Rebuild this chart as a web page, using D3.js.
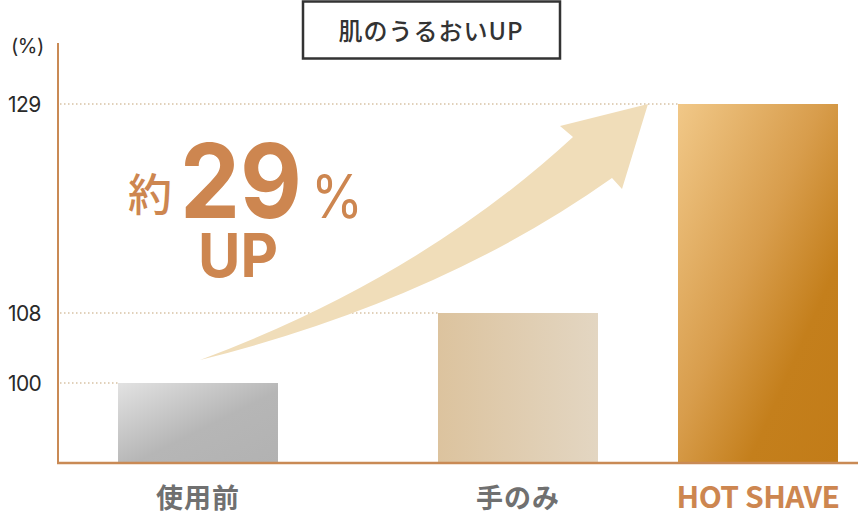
<!DOCTYPE html>
<html><head><meta charset="utf-8">
<script src="https://cdn.jsdelivr.net/npm/d3@7/dist/d3.min.js"></script>
<style>body{margin:0;background:#fff}svg{display:block}</style>
</head><body>
<svg id="c" width="860" height="520"></svg>
<script>
const categories = ["使用前", "手のみ", "HOT SHAVE"];
const values = [100, 108, 129];
const yTicks = [100, 108, 129];
const yUnit = "(%)";
const title = "肌のうるおいUP";
const calloutPrefix = "約";
const calloutValue = "29";
const calloutSuffix = "%";
const calloutUp = "UP";

const svg = d3.select("#c");
const axisColor = "#c98a55";
const accent = "#cd8650";

// the reference chart is not drawn to scale; a piecewise linear scale reproduces it
const y = d3.scaleLinear().domain([91, 100, 108, 129]).range([463, 383, 313, 104]);
const x = d3.scalePoint().domain(categories).range([198, 758]);
const bw = 160;
const xPos = d => (d === categories[1] ? 518 : x(d)) - bw / 2;

const defs = svg.append("defs");
function lg(id, x1, y1, x2, y2, stops) {
  const g = defs.append("linearGradient").attr("id", id)
    .attr("x1", x1).attr("y1", y1).attr("x2", x2).attr("y2", y2);
  stops.forEach(s => g.append("stop").attr("offset", s[0]).attr("stop-color", s[1]));
}
lg("g0", "0%", "0%", "100%", "100%", [["0%", "#e2e2e2"], ["55%", "#b6b6b6"], ["100%", "#b2b2b2"]]);
lg("g1", "0%", "0%", "100%", "0%", [["0%", "#dcc39e"], ["100%", "#e3d6c2"]]);
lg("g2", "0%", "0%", "100%", "100%", [["0%", "#f1c888"], ["45%", "#d89d4c"], ["72%", "#c47f1c"], ["100%", "#c27c18"]]);
const fills = ["url(#g0)", "url(#g1)", "url(#g2)"];

// dotted guide lines up to each bar
svg.append("g").selectAll("line").data(yTicks).join("line")
  .attr("x1", 60).attr("x2", (d, i) => xPos(categories[i]))
  .attr("y1", d => y(d)).attr("y2", d => y(d))
  .attr("stroke", "#d8c2a4").attr("stroke-width", 1.5).attr("stroke-dasharray", "1.5,2.5");

// tick labels
svg.append("g").selectAll("text").data(yTicks).join("text")
  .attr("x", 8).attr("y", d => y(d)).attr("dy", "0.36em")
  .attr("font-family", "Inter, 'Noto Sans', sans-serif").attr("font-size", 21)
  .attr("fill", "#2a2a2a").attr("letter-spacing", "-0.6")
  .text(d => d);
svg.append("text").attr("x", 11).attr("y", 53)
  .attr("font-family", "Inter, 'Noto Sans', sans-serif").attr("font-size", 20)
  .attr("fill", "#2a2a2a").attr("letter-spacing", "-0.5").text(yUnit);

// bars
svg.append("g").selectAll("rect").data(values).join("rect")
  .attr("x", (d, i) => xPos(categories[i])).attr("width", bw)
  .attr("y", d => y(d)).attr("height", d => y.range()[0] - y(d))
  .attr("fill", (d, i) => fills[i]);

// arrow (annotation anchored to the scales)
const tail = [xPos(categories[0]) + bw / 2 + 2, y(values[0]) - 23];
const tip = [xPos(categories[2]) - 30, y(values[2])];
const p = (dx, dy) => [tip[0] + dx, tip[1] + dy];
const Li = p(-75, 33), L = p(-88, 22), R = p(-26, 85), Ri = p(-36, 74);
const path = d3.path();
path.moveTo(tail[0], tail[1]);
path.quadraticCurveTo(420, 278, Li[0], Li[1]);
path.lineTo(L[0], L[1]);
path.lineTo(tip[0], tip[1]);
path.lineTo(R[0], R[1]);
path.lineTo(Ri[0], Ri[1]);
path.quadraticCurveTo(440, 300, tail[0], tail[1]);
path.closePath();
svg.append("path").attr("d", path.toString()).attr("fill", "#f0ddb9");

// axes
svg.append("line").attr("x1", 58).attr("x2", 58).attr("y1", 43).attr("y2", 464)
  .attr("stroke", axisColor).attr("stroke-width", 2);
svg.append("line").attr("x1", 57).attr("x2", 858).attr("y1", 463).attr("y2", 463)
  .attr("stroke", axisColor).attr("stroke-width", 2.5);

// category labels
svg.append("g").selectAll("text").data(categories).join("text")
  .attr("x", d => xPos(d) + bw / 2).attr("y", 508)
  .attr("text-anchor", "middle")
  .attr("font-family", "'Noto Sans CJK JP', sans-serif").attr("font-weight", 700)
  .attr("font-size", (d, i) => i === 2 ? 30 : 27)
  .attr("fill", (d, i) => i === 2 ? accent : "#707070")
  .attr("letter-spacing", (d, i) => i === 2 ? "-0.5" : "1")
  .text(d => d);

// title box
svg.append("rect").attr("x", 303).attr("y", 1.5).attr("width", 257).attr("height", 57)
  .attr("fill", "#fff").attr("stroke", "#333").attr("stroke-width", 2.5);
svg.append("text").attr("x", 431).attr("y", 31).attr("dy", "0.36em").attr("text-anchor", "middle")
  .attr("font-family", "'Noto Sans CJK JP', sans-serif").attr("font-weight", 500)
  .attr("font-size", 24).attr("fill", "#333").attr("letter-spacing", "1").text(title);

// callout
const cf = "Inter, 'Noto Sans', sans-serif";
svg.append("text").attr("x", 128).attr("y", 211)
  .attr("font-family", "'Noto Sans CJK JP', sans-serif").attr("font-weight", 500)
  .attr("font-size", 44).attr("fill", accent).text(calloutPrefix);
svg.append("text").attr("x", 180).attr("y", 218)
  .attr("font-family", cf).attr("font-weight", 700)
  .attr("font-size", 103).attr("fill", accent)
  .attr("textLength", 122).attr("lengthAdjust", "spacingAndGlyphs").text(calloutValue);
svg.append("text").attr("x", 311).attr("y", 218)
  .attr("font-family", cf).attr("font-weight", 400)
  .attr("font-size", 60).attr("fill", accent)
  .attr("textLength", 52).attr("lengthAdjust", "spacingAndGlyphs").text(calloutSuffix);
svg.append("text").attr("x", 198).attr("y", 277)
  .attr("font-family", cf).attr("font-weight", 700)
  .attr("font-size", 61).attr("fill", accent)
  .attr("textLength", 80).attr("lengthAdjust", "spacingAndGlyphs").text(calloutUp);
</script>
</body></html>
